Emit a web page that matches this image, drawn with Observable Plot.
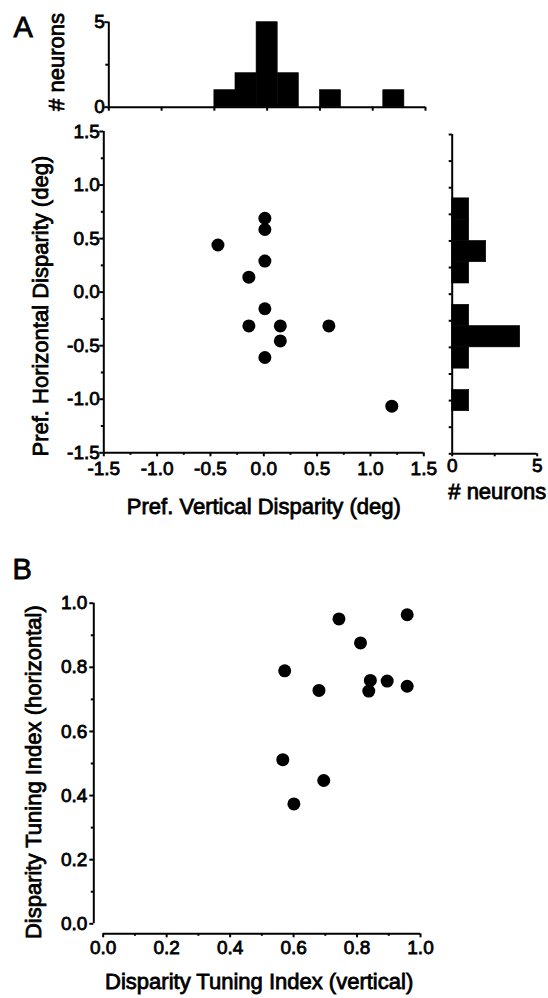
<!DOCTYPE html>
<html>
<head>
<meta charset="utf-8">
<script src="https://cdn.jsdelivr.net/npm/d3@7"></script>
<script src="https://cdn.jsdelivr.net/npm/@observablehq/plot@0.6"></script>
<style>
  html, body { margin: 0; padding: 0; background: #fff; }
  #chart { position: relative; width: 548px; height: 998px; background: #fff; color: #000; }
  #chart svg { position: absolute; overflow: visible; }
  #chart svg text { stroke: #000; stroke-width: 0.8px; paint-order: stroke; }
</style>
</head>
<body>
<div id="chart"></div>
<script>
// ---------- Data ----------
// Panel A: preferred disparities of the 12 neurons (deg)
const prefVertical   = [-0.43, 0.01, 0.01, 0.01, -0.14, 0.01, -0.14, 0.155, 0.155, 0.01, 0.61, 1.2];
const prefHorizontal = [0.44, 0.69, 0.585, 0.29, 0.14, -0.155, -0.315, -0.315, -0.455, -0.61, -0.315, -1.065];

// Top marginal histogram (vertical disparity), bin lower edges and counts
const topBinStart = [-0.5, -0.3, -0.1, 0.1, 0.5, 1.1];
const topBinCount = [1, 2, 5, 2, 1, 1];
// Right marginal histogram (horizontal disparity), bin lower edges and counts
const rightBinStart = [0.7, 0.5, 0.3, 0.1, -0.3, -0.5, -0.7, -1.1];
const rightBinCount = [1, 1, 2, 1, 1, 4, 1, 1];
const binWidth = 0.2;

// Panel B: disparity tuning indices
const dtiVertical   = [0.743, 0.958, 0.811, 0.572, 0.680, 0.842, 0.837, 0.895, 0.958, 0.566, 0.695, 0.601];
const dtiHorizontal = [0.951, 0.964, 0.876, 0.789, 0.728, 0.759, 0.726, 0.757, 0.741, 0.512, 0.447, 0.374];

// Tick values / labels
const dispTicks = [-1.5, -1, -0.5, 0, 0.5, 1, 1.5];
const dispMinorTicks = [-1.25, -0.75, -0.25, 0.25, 0.75, 1.25];
const countTicks = [0, 5];
const countMinorTicks = [2.5];
const dtiTicks = [0, 0.2, 0.4, 0.6, 0.8, 1.0];
const dtiMinorTicks = [0.1, 0.3, 0.5, 0.7, 0.9];

// Text
const labelA = "A", labelB = "B";
const labelCount = "# neurons";
const labelVert = "Pref. Vertical Disparity (deg)";
const labelHoriz = "Pref. Horizontal Disparity (deg)";
const labelDtiV = "Disparity Tuning Index (vertical)";
const labelDtiH = "Disparity Tuning Index (horizontal)";

// ---------- Build tables ----------
const pointsA = prefVertical.map((v, i) => ({v, h: prefHorizontal[i]}));
const pointsB = dtiVertical.map((v, i) => ({v, h: dtiHorizontal[i]}));
const topBins = topBinStart.map((lo, i) => ({lo, hi: lo + binWidth, n: topBinCount[i]}));
const rightBins = rightBinStart.map((lo, i) => ({lo, hi: lo + binWidth, n: rightBinCount[i]}));

const FONT = '"Liberation Sans", Arial, Helvetica, sans-serif';
const style = {fontFamily: FONT, color: "#000", background: "none", overflow: "visible"};
const fmt1 = d => d.toFixed(1);
const fmt0 = d => String(d);
const TICK_FS = 19, LABEL_FS = 22, PANEL_FS = 29, SW = 2;

const chart = document.getElementById("chart");
function place(svg, left, top) {
  svg.style.left = left + "px";
  svg.style.top = top + "px";
  chart.appendChild(svg);
}

// ---------- Top histogram ----------
const topHist = Plot.plot({
  width: 440, height: 120,
  marginLeft: 108.3, marginRight: 15, marginTop: 21.7, marginBottom: 13.3,
  style,
  x: {domain: [-1.5, 1.5]},
  y: {domain: [0, 5]},
  marks: [
    Plot.rectY(topBins, {x1: "lo", x2: "hi", y: "n", fill: "#000", stroke: "#000", strokeWidth: 0.6}),
    Plot.ruleY([0], {strokeWidth: SW}),
    Plot.ruleX([-1.5], {strokeWidth: SW}),
    Plot.axisX({ticks: dispTicks, tickSize: 4, strokeWidth: SW, fill: "none", label: null}),
    Plot.axisY({ticks: countTicks, tickSize: 4, tickPadding: 0, tickFormat: fmt0, strokeWidth: SW, fontSize: TICK_FS, label: null}),
    Plot.axisY({ticks: countMinorTicks, tickSize: 3, strokeWidth: SW, fill: "none", label: null}),
    Plot.text([labelCount], {frameAnchor: "left", rotate: -90, textAnchor: "middle", lineAnchor: "top", dx: -60, dy: -2.7, fontSize: LABEL_FS}),
    Plot.text([labelA], {frameAnchor: "top-left", textAnchor: "start", lineAnchor: "bottom", dx: -95.3, dy: 14.3, fontSize: PANEL_FS})
  ]
});
place(topHist, 0, 0);

// ---------- Panel A scatter ----------
const scatterA = Plot.plot({
  width: 440, height: 405,
  marginLeft: 103.3, marginRight: 16.7, marginTop: 11, marginBottom: 72.7,
  style,
  x: {domain: [-1.5, 1.5]},
  y: {domain: [-1.5, 1.5]},
  marks: [
    Plot.ruleY([-1.5], {strokeWidth: SW}),
    Plot.ruleX([-1.5], {strokeWidth: SW}),
    Plot.axisX({ticks: dispTicks, tickSize: 4, tickPadding: 4.5, tickFormat: fmt1, fontSize: TICK_FS, strokeWidth: SW, label: null}),
    Plot.axisX({ticks: dispMinorTicks, tickSize: 2.5, strokeWidth: SW, fill: "none", label: null}),
    Plot.axisY({ticks: dispTicks, tickSize: 4, tickPadding: 0, tickFormat: fmt1, fontSize: TICK_FS, strokeWidth: SW, label: null}),
    Plot.axisY({ticks: dispMinorTicks, tickSize: 2.5, strokeWidth: SW, fill: "none", label: null}),
    Plot.dot(pointsA, {x: "v", y: "h", r: 6.5, fill: "#000"}),
    Plot.text([labelVert], {frameAnchor: "bottom", lineAnchor: "bottom", dy: 61, fontSize: LABEL_FS}),
    Plot.text([labelHoriz], {frameAnchor: "left", rotate: -90, textAnchor: "middle", lineAnchor: "top", dx: -71.3, dy: 14, fontSize: LABEL_FS})
  ]
});
place(scatterA, 0, 120);

// ---------- Right histogram ----------
const rightHist = Plot.plot({
  width: 108, height: 385,
  marginLeft: 11.7, marginRight: 11.3, marginTop: 14, marginBottom: 51.7,
  style,
  x: {domain: [0, 5]},
  y: {domain: [-1.5, 1.5]},
  marks: [
    Plot.rectX(rightBins, {y1: "lo", y2: "hi", x: "n", fill: "#000", stroke: "#000", strokeWidth: 0.6}),
    Plot.ruleX([0], {strokeWidth: SW}),
    Plot.ruleY([-1.5], {strokeWidth: SW}),
    Plot.axisY({ticks: dispTicks.concat(dispMinorTicks), tickSize: 3, strokeWidth: SW, fill: "none", label: null}),
    Plot.axisX({ticks: countTicks, tickSize: 3, tickPadding: 1.7, tickFormat: fmt0, fontSize: TICK_FS, strokeWidth: SW, label: null}),
    Plot.axisX({ticks: countMinorTicks, tickSize: 3, strokeWidth: SW, fill: "none", label: null}),
    Plot.text([labelCount], {frameAnchor: "bottom", lineAnchor: "bottom", dx: 2.5, dy: 44.7, fontSize: LABEL_FS})
  ]
});
place(rightHist, 440, 120);

// ---------- Panel B scatter ----------
const scatterB = Plot.plot({
  width: 440, height: 438,
  marginLeft: 93.3, marginRight: 20, marginTop: 42.7, marginBottom: 64.7,
  style,
  x: {domain: [0, 1], range: [102.7, 420]},
  y: {domain: [0, 1], range: [363.3, 42.7]},
  marks: [
    Plot.ruleY([0], {x1: 0, x2: 1, dy: 10, strokeWidth: SW}),
    Plot.ruleX([0], {y1: 0, y2: 1, dx: -9.4, strokeWidth: SW}),
    Plot.axisX({ticks: dtiTicks, tickSize: 4, tickPadding: 2.7, tickFormat: fmt1, fontSize: TICK_FS, strokeWidth: SW, label: null}),
    Plot.axisX({ticks: dtiMinorTicks, tickSize: 2.5, strokeWidth: SW, fill: "none", label: null}),
    Plot.axisY({ticks: dtiTicks, tickSize: 4, tickPadding: 2.5, tickFormat: fmt1, fontSize: TICK_FS, strokeWidth: SW, label: null}),
    Plot.axisY({ticks: dtiMinorTicks, tickSize: 2.5, strokeWidth: SW, fill: "none", label: null}),
    Plot.dot(pointsB, {x: "v", y: "h", r: 6.5, fill: "#000"}),
    Plot.text([labelDtiV], {frameAnchor: "bottom", lineAnchor: "bottom", dx: 2, dy: 55, fontSize: LABEL_FS}),
    Plot.text([labelDtiH], {frameAnchor: "left", rotate: -90, textAnchor: "middle", lineAnchor: "top", dx: -68.3, dy: 3.7, fontSize: LABEL_FS}),
    Plot.text([labelB], {frameAnchor: "top-left", textAnchor: "start", lineAnchor: "bottom", dx: -81.3, dy: -24.7, fontSize: PANEL_FS})
  ]
});
place(scatterB, 0, 560);
</script>
</body>
</html>
